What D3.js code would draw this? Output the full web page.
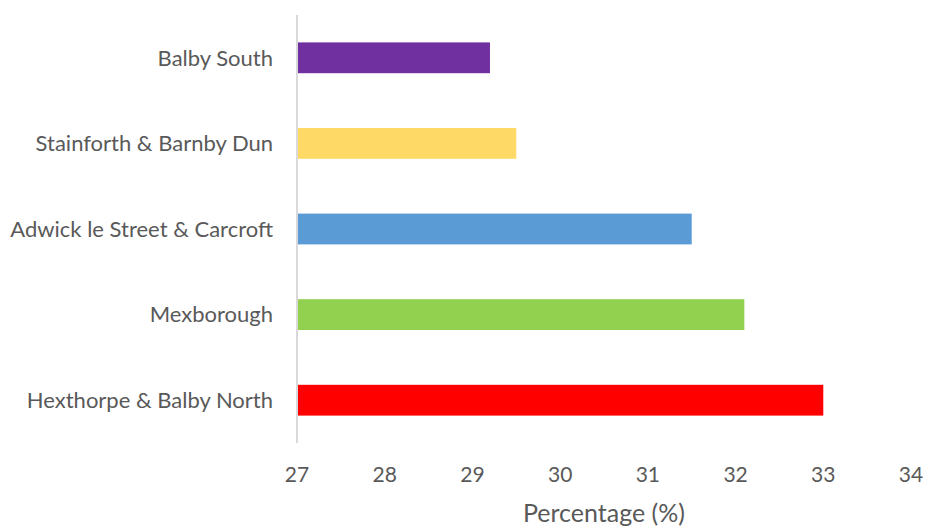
<!DOCTYPE html>
<html><head><meta charset="utf-8">
<script src="https://cdn.jsdelivr.net/npm/d3@7"></script>
<style>html,body{margin:0;padding:0;background:#fff;}</style>
</head><body>
<svg id="chart" width="927" height="527"></svg>
<script>
const categories = ["Balby South", "Stainforth & Barnby Dun", "Adwick le Street & Carcroft", "Mexborough", "Hexthorpe & Balby North"];
const values = [29.2, 29.5, 31.5, 32.1, 33.0];
const colors = ["#7030a0", "#ffd966", "#5b9bd5", "#92d050", "#ff0000"];
const xTicks = [27, 28, 29, 30, 31, 32, 33, 34];
const xTitle = "Percentage (%)";

const svg = d3.select("#chart");
const font = "Lato, 'Open Sans', sans-serif";
const x = d3.scaleLinear().domain([27, 34]).range([297, 911]);
const y = d3.scaleBand().domain(categories).range([15, 443]).paddingInner(0.64).paddingOuter(0.32);

svg.selectAll("rect.bar").data(categories).enter().append("rect")
  .attr("class", "bar")
  .attr("x", x(27))
  .attr("y", d => y(d))
  .attr("height", y.bandwidth())
  .attr("width", (d, i) => x(values[i]) - x(27))
  .attr("fill", (d, i) => colors[i]);

// vertical axis line
svg.append("line").attr("x1", 297).attr("x2", 297).attr("y1", 15).attr("y2", 443)
  .attr("stroke", "#d9d9d9").attr("stroke-width", 2);

// category labels
svg.selectAll("text.cat").data(categories).enter().append("text")
  .attr("class", "cat")
  .attr("x", 273)
  .attr("y", d => y(d) + y.bandwidth() / 2)
  .attr("dy", "0.35em")
  .attr("text-anchor", "end")
  .attr("font-family", font).attr("font-size", 22).attr("fill", "#595959")
  .text(d => d);

// x tick labels
svg.selectAll("text.tick").data(xTicks).enter().append("text")
  .attr("class", "tick")
  .attr("x", d => x(d))
  .attr("y", 482)
  .attr("text-anchor", "middle")
  .attr("font-family", font).attr("font-size", 21).attr("fill", "#595959")
  .text(d => d);

svg.append("text").attr("x", 604).attr("y", 522).attr("text-anchor", "middle")
  .attr("font-family", font).attr("font-size", 25).attr("fill", "#595959")
  .text(xTitle);
</script>
</body></html>
